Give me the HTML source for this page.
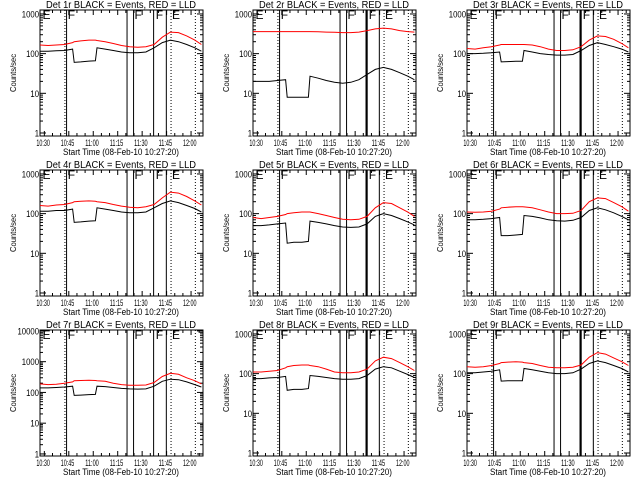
<!DOCTYPE html>
<html><head><meta charset="utf-8"><style>
html,body{margin:0;padding:0;background:#fff;}
svg{display:block;font-family:"Liberation Sans",sans-serif;}
</style></head><body>
<svg id="chart" width="640" height="480" viewBox="0 0 640 480" xmlns="http://www.w3.org/2000/svg"></svg>
<script>
// sample times (minutes after 10:27:20)
const times = [0,5,10,15,20,21,25,30,34,35,40,45,50,55,60,65,70,75,80,85,90,95,99];
const det1Black = [115,115,118,120,130,60,62,65,66,140,130,120,110,105,105,110,140,190,220,200,170,140,115];
const det1Red   = [165,160,165,170,190,200,210,220,220,215,200,180,160,150,145,150,170,260,350,340,280,220,170];
const det2Black = [20,20,20,21,22,8,8,8,8,27,24,21,19,18,19,22,30,40,45,40,33,27,22];
const det2Red   = [360,360,360,360,360,360,360,360,360,360,355,350,345,340,340,350,380,420,440,420,380,360,350];
const det3Black = [100,100,102,105,110,62,63,64,64,120,110,100,95,92,92,95,120,160,190,170,150,130,110];
const det3Red   = [135,130,140,150,165,170,170,170,170,170,165,150,130,120,120,125,150,220,280,270,230,180,140];
const det4Black = [115,115,120,120,130,60,62,65,66,140,130,120,110,105,105,110,140,180,210,190,160,135,110];
const det4Red   = [160,155,165,170,190,200,205,210,205,200,190,170,155,145,140,150,170,250,350,330,270,210,165];
const det5Black = [50,50,52,55,58,18,19,19,20,65,60,55,50,46,45,46,55,85,100,90,75,62,52];
const det5Red   = [80,75,80,85,95,100,105,110,110,110,100,90,80,72,70,72,85,140,190,180,140,110,85];
const det6Black = [70,70,72,75,80,28,28,29,30,90,85,78,70,66,65,68,80,120,140,125,105,85,70];
const det6Red   = [110,108,110,115,130,140,145,150,150,148,140,125,110,100,100,102,120,200,250,240,190,150,115];
const det7Black = [140,140,145,150,160,80,82,85,86,160,155,145,135,130,128,130,160,230,270,260,220,180,150];
const det7Red   = [190,180,185,200,220,240,245,250,245,240,230,200,180,170,170,175,210,330,420,390,300,240,190];
const det8Black = [75,75,78,80,85,38,40,40,42,90,85,80,75,72,72,75,90,130,150,140,115,95,80];
const det8Red   = [110,110,115,120,140,150,160,165,165,160,150,130,110,105,105,110,130,210,260,240,190,150,120];
const det9Black = [105,105,110,115,125,65,66,66,66,135,125,115,105,100,100,105,130,180,210,190,160,135,110];
const det9Red   = [150,145,150,160,180,190,195,200,195,190,180,160,145,140,140,145,165,260,340,310,250,200,160];
const xTickTimes = [2.67,17.67,32.67,47.67,62.67,77.67,92.67];
const xTickLabels = ["10:30","10:45","11:00","11:15","11:30","11:45","12:00"];
const solidLines = [16.3,53.4,57.4,69.7,77.5];
const dottedLines = [15.3,80.4,95.3];
const eventLetters = ["E","F","F","F","E"];
const letterTimes = [1.5,17,58,71,81];

const blacks=[det1Black,det2Black,det3Black,det4Black,det5Black,det6Black,det7Black,det8Black,det9Black];
const reds=[det1Red,det2Red,det3Red,det4Red,det5Red,det6Red,det7Red,det8Red,det9Red];
const svg=document.getElementById('chart');
const NS='http://www.w3.org/2000/svg';
function mk(tag,attrs,parent){const e=document.createElementNS(NS,tag);for(const k in attrs)e.setAttribute(k,attrs[k]);parent.appendChild(e);return e;}

for(let i=0;i<9;i++){
  const col=i%3,row=Math.floor(i/3);
  const ox=[0,213,427][col], oy=row*160;
  const g=mk('g',{transform:`translate(${ox},${oy})`},svg);
  
  
  const L=40,R=203,T=10,B=136;
  const logMin = i===6? -0.067 : -0.076;
  const logMax = i===6? 4.03 : 3.1;
  const x=t=>L+t*1.63;
  const y=v=>B-(Math.log10(v)-logMin)/(logMax-logMin)*(B-T);
  const title=mk('text',{x:46,y:8,'font-size':10,textLength:150,lengthAdjust:'spacingAndGlyphs',fill:'#000'},g);
  title.textContent=`Det ${i+1}r BLACK = Events, RED = LLD`;
  
  
  const fr=mk('rect',{x:L,y:T,width:R-L,height:B-T,fill:'none',stroke:'#000','stroke-width':1},g);
  
  
  const nd= i===6?4:3;
  for(let d=0;d<=nd;d++){
    const yy=y(Math.pow(10,d));
    mk('line',{x1:L,x2:L+6,y1:yy,y2:yy,stroke:'#000'},g);
    mk('line',{x1:R-6,x2:R,y1:yy,y2:yy,stroke:'#000'},g);
    const s=String(Math.pow(10,d));
    const lab=mk('text',{x:39-s.length*4.3,y:yy+3.5,'font-size':9,textLength:s.length*4.3,lengthAdjust:'spacingAndGlyphs'},g);
    lab.textContent=s;
    
    
    if(d<nd){for(let m=2;m<=9;m++){const ym=y(m*Math.pow(10,d));
      mk('line',{x1:L,x2:L+3,y1:ym,y2:ym,stroke:'#000'},g);
      mk('line',{x1:R-3,x2:R,y1:ym,y2:ym,stroke:'#000'},g);}}
  }
  for(let t=2.67;t<100;t+=5){const xx=x(t);const major=xTickTimes.some(v=>Math.abs(v-t)<0.1);const len=major?5:3;
    mk('line',{x1:xx,x2:xx,y1:B,y2:B-len,stroke:'#000'},g);
    mk('line',{x1:xx,x2:xx,y1:T,y2:T+len,stroke:'#000'},g);}
  xTickLabels.forEach((s,k)=>{const tl=mk('text',{x:x(xTickTimes[k])-8,y:146,'font-size':9.5,textLength:13.5,lengthAdjust:'spacingAndGlyphs'},g);tl.textContent=s;
    
    });
  const xt=mk('text',{x:63,y:155,'font-size':9,textLength:116,lengthAdjust:'spacingAndGlyphs'},g);xt.textContent='Start Time (08-Feb-10 10:27:20)';
  
  
  const yt=mk('text',{x:-19,y:0,'font-size':8.5,textLength:38,lengthAdjust:'spacingAndGlyphs',transform:`translate(16,${(T+B)/2}) rotate(-90)`},g);yt.textContent='Counts/sec';
  
  
  solidLines.forEach((t,k)=>{const thick=(k===3&&[1,2,4,5,7,8].includes(i))?2.2:1;
    const ln=mk('line',{x1:x(t),x2:x(t),y1:T,y2:B,stroke:'#000','stroke-width':thick},g);
    
    });
  dottedLines.forEach(t=>{const ln=mk('line',{x1:x(t),x2:x(t),y1:T,y2:B,stroke:'#000','stroke-dasharray':'1,2'},g);
    
    });
  eventLetters.forEach((s,k)=>{const el=mk('text',{x:x(letterTimes[k]),y:T+9,'font-size':12,'font-weight':'normal'},g);el.textContent=s;
    
    });
  const pts=a=>a.map((v,k)=>x(times[k]).toFixed(1)+','+y(v).toFixed(1)).join(' ');
  const red=mk('polyline',{points:pts(reds[i]),fill:'none',stroke:'#f00','stroke-width':1},g);
  
  
  const blk=mk('polyline',{points:pts(blacks[i]),fill:'none',stroke:'#000','stroke-width':1},g);
  
  
}
</script>
</body></html>
